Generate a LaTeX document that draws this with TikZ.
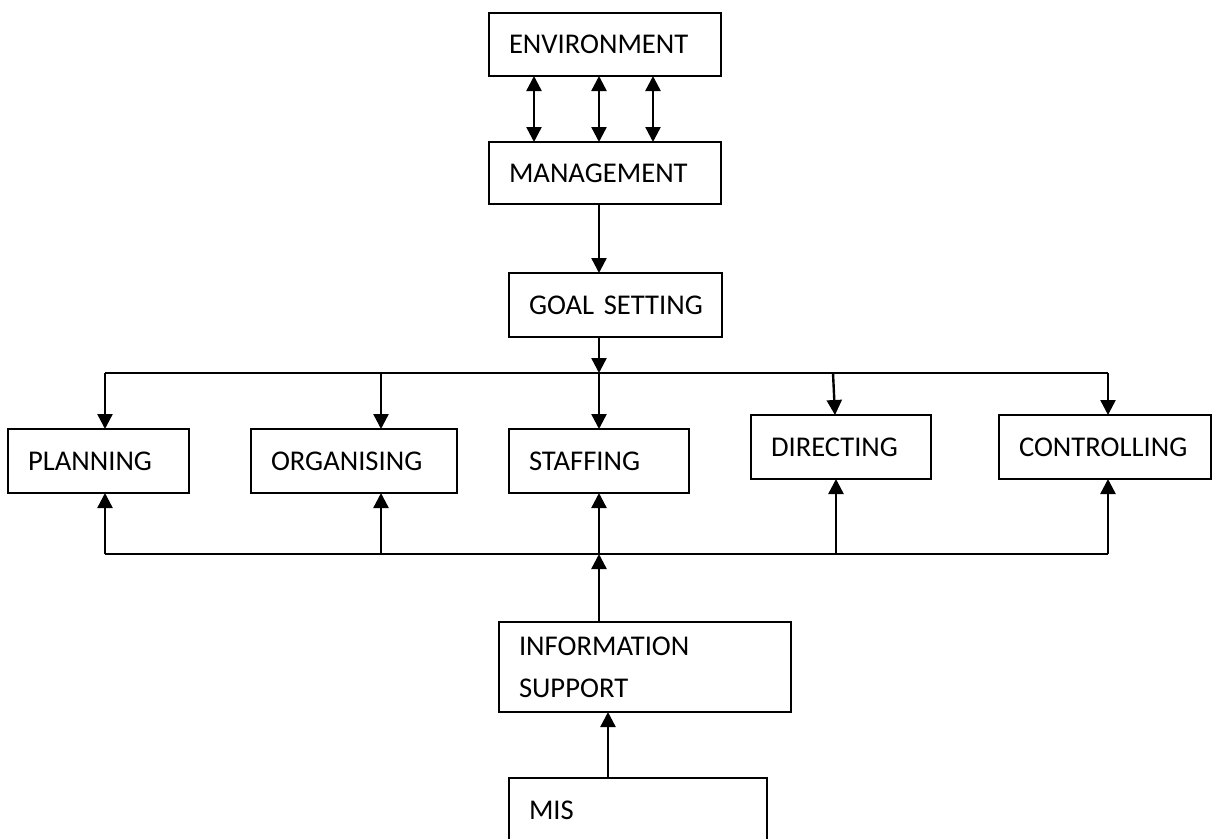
\documentclass[tikz,border=0pt]{standalone}
\usepackage{fontspec}
\setmainfont{Carlito}
\usetikzlibrary{arrows.meta}
% label face used inside every box
\newcommand\labelface{\fontsize{28.6}{42}\selectfont\spaceskip=0.16em\relax}
\begin{document}
\begin{tikzpicture}[x=1pt,y=-1pt,
  box/.style={draw, line width=2pt, anchor=north west, outer sep=0pt,
    inner xsep=20pt, inner ysep=2pt, align=left, font=\labelface},
  link/.style={line width=2.4pt},
  arr/.style={link, -{Triangle[length=15pt,width=15pt]}},
  darr/.style={link, {Triangle[length=15pt,width=15pt]}-{Triangle[length=15pt,width=15pt]}}]
\useasboundingbox (0,0) rectangle (1212,838);

% boxes
\node[box, text width=192pt, minimum height=63pt] (env)   at (489,13)  {ENVIRONMENT};
\node[box, text width=192pt, minimum height=62pt] (mgmt)  at (489,142) {MANAGEMENT};
\node[box, text width=173pt, minimum height=64pt] (goal)  at (509,273) {\mbox{GOAL SETTING}};
\node[box, text width=141pt, minimum height=64pt] (plan)  at (8,429)   {PLANNING};
\node[box, text width=166pt, minimum height=64pt] (org)   at (251,429) {ORGANISING};
\node[box, text width=140pt, minimum height=64pt] (staff) at (509,429) {STAFFING};
\node[box, text width=140pt, minimum height=64pt] (dir)   at (751,415) {DIRECTING};
\node[box, text width=172pt, minimum height=64pt] (ctrl)  at (999,415) {CONTROLLING};
\node[box, text width=252pt, minimum height=90pt] (info)  at (499,622) {INFORMATION\\SUPPORT};
\node[box, text width=218pt, minimum height=64pt] (mis)   at (509,778) {MIS};

% bus junctions
\coordinate (tL) at (105,373);
\coordinate (tR) at (1108,373);
\coordinate (bL) at (105,554);
\coordinate (bR) at (1108,554);

% environment <-> management
\draw[darr] (env.south -| 534,0) -- (mgmt.north -| 534,0);
\draw[darr] (env.south -| 599,0) -- (mgmt.north -| 599,0);
\draw[darr] (env.south -| 653,0) -- (mgmt.north -| 653,0);

% management -> goal setting -> upper bus
\draw[arr] (mgmt.south -| 599,0) -- (goal.north -| 599,0);
\draw[arr] (goal.south -| 599,0) -- (tL -| 599,0);

% upper bus and its branches
\draw[link] (tL) -- (tR);
\draw[arr] (tL) -- (plan.north -| tL);
\draw[arr] (tL -| 381,0) -- (org.north -| 381,0);
\draw[arr] (tL -| 599,0) -- (staff.north -| 599,0);
\draw[arr] (tL -| 833,0) -- (dir.north -| 835,0);
\draw[arr] (tR) -- (ctrl.north -| tR);

% lower bus and its branches
\draw[link] (bL) -- (bR);
\draw[arr] (bL) -- (plan.south -| bL);
\draw[arr] (bL -| 381,0) -- (org.south -| 381,0);
\draw[arr] (bL -| 599,0) -- (staff.south -| 599,0);
\draw[arr] (bL -| 836,0) -- (dir.south -| 836,0);
\draw[arr] (bR) -- (ctrl.south -| bR);

% information support feeds the lower bus, MIS feeds information support
\draw[arr] (info.north -| 599,0) -- (bL -| 599,0);
\draw[arr] (mis.north -| 608,0) -- (info.south -| 608,0);
\end{tikzpicture}
\end{document}
